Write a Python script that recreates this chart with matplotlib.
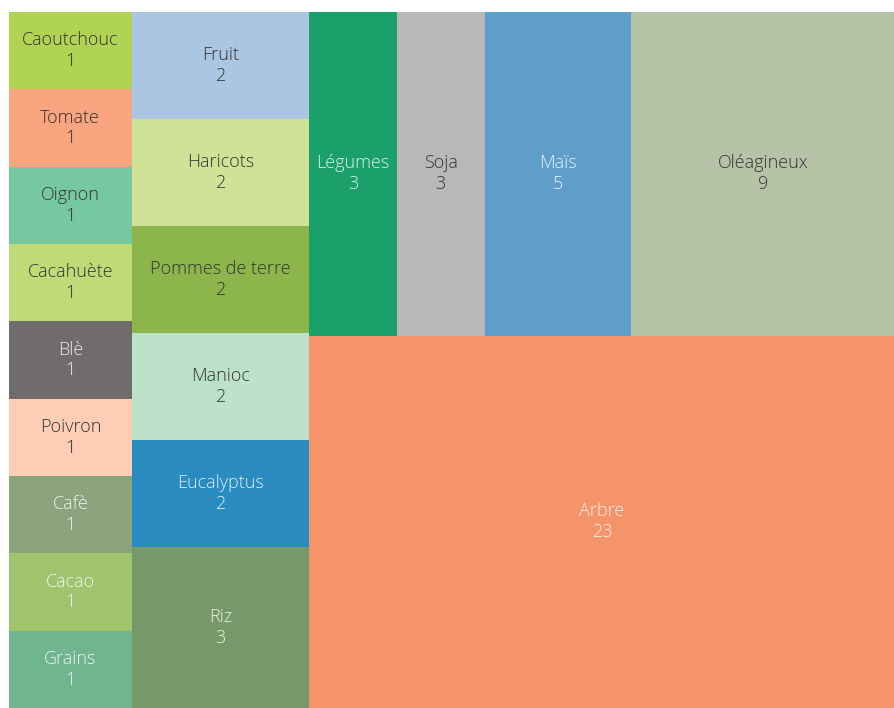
import math
import matplotlib
matplotlib.use("Agg")
import matplotlib.pyplot as plt
from matplotlib.patches import Rectangle

# ---- data ----
categories = ["Caoutchouc", "Tomate", "Oignon", "Cacahuète", "Blè", "Poivron",
              "Cafè", "Cacao", "Grains", "Fruit", "Haricots", "Pommes de terre",
              "Manioc", "Eucalyptus", "Riz", "Légumes", "Soja", "Maïs",
              "Oléagineux", "Arbre"]
values = [1, 1, 1, 1, 1, 1, 1, 1, 1, 2, 2, 2, 2, 2, 3, 3, 3, 5, 9, 23]

# ---- styles ----
colors = ["#b0d353", "#f9a57f", "#76c8a0", "#bedb78", "#716c6c", "#fdcdb6",
          "#8ba47e", "#a0c36e", "#6fb58f", "#abc6e2", "#cfe298", "#8cb54b",
          "#bce2ca", "#2a8bc0", "#779969", "#1ba06b", "#bab8b6", "#5f9ec9",
          "#b5c2a6", "#f5936a"]
light_text = {"Blè", "Cafè", "Cacao", "Grains", "Eucalyptus", "Riz",
              "Légumes", "Maïs", "Arbre"}

W, H = 886.0, 696.0
PHI = (1 + math.sqrt(5)) / 2


def squarify(vals, x0, y0, x1, y1, ratio=PHI):
    """d3-style squarified treemap layout; returns list of (x0, y0, x1, y1)."""
    n = len(vals)
    rects = [None] * n
    value = float(sum(vals))
    i0 = i1 = 0
    while i0 < n:
        dx, dy = x1 - x0, y1 - y0
        sum_v = vals[i1]
        i1 += 1
        min_v = max_v = sum_v
        alpha = max(dy / dx, dx / dy) / (value * ratio)
        beta = sum_v * sum_v * alpha
        min_ratio = max(max_v / beta, beta / min_v)
        while i1 < n:
            nv = vals[i1]
            sum_v += nv
            min_v = min(min_v, nv)
            max_v = max(max_v, nv)
            beta = sum_v * sum_v * alpha
            new_ratio = max(max_v / beta, beta / min_v)
            if new_ratio > min_ratio:
                sum_v -= nv
                break
            min_ratio = new_ratio
            i1 += 1
        row = list(range(i0, i1))
        if dx < dy:  # dice: horizontal row at top
            ny = y0 + dy * sum_v / value
            cx = x0
            for i in row:
                w = (x1 - x0) * vals[i] / sum_v
                rects[i] = (cx, y0, cx + w, ny)
                cx += w
            y0 = ny
        else:  # slice: vertical column at left
            nx = x0 + dx * sum_v / value
            cy = y0
            for i in row:
                h = (y1 - y0) * vals[i] / sum_v
                rects[i] = (x0, cy, nx, cy + h)
                cy += h
            x0 = nx
        value -= sum_v
        i0 = i1
    return rects


rects = squarify(values, 0.0, 0.0, W, H)

fig = plt.figure(figsize=(8.95, 7.08), dpi=100)
ax = fig.add_axes([9 / 895, 0, 886 / 895, 696 / 708])
ax.set_xlim(0, W)
ax.set_ylim(H, 0)
ax.axis("off")

for name, val, col, (rx0, ry0, rx1, ry1) in zip(categories, values, colors, rects):
    ax.add_patch(Rectangle((rx0, ry0), rx1 - rx0, ry1 - ry0, facecolor=col,
                           edgecolor="none", linewidth=0))
    tc = (1, 1, 1, 0.85) if name in light_text else (0.2, 0.2, 0.2, 1)
    ax.text((rx0 + rx1) / 2, (ry0 + ry1) / 2, f"{name}\n{val}", ha="center",
            va="center", color=tc, fontsize=13, family="Open Sans",
            fontweight="light", linespacing=1.2)

fig.savefig("out.png", dpi=100)
